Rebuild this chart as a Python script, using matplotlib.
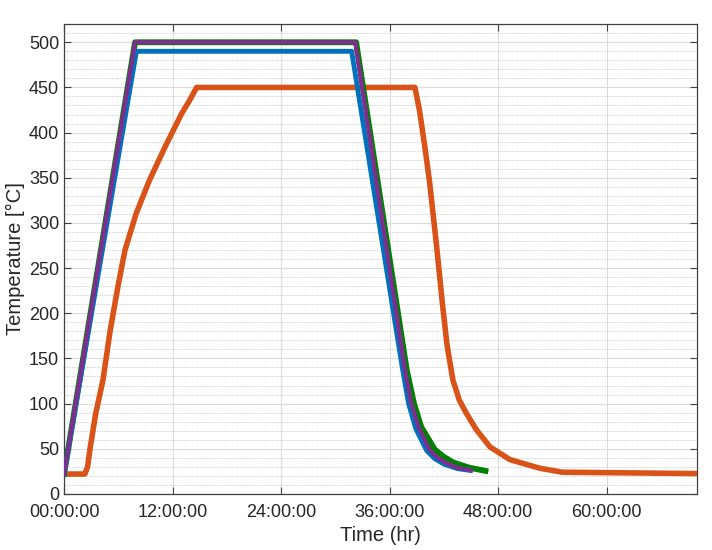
import matplotlib.pyplot as plt
import matplotlib.ticker as mticker
import numpy as np

plt.rcParams["font.family"] = ["Liberation Sans", "DejaVu Sans"]

# time in hours, temperature in deg C
blue_t = [0.0, 8.0, 31.8, 37.4, 38.1, 38.9, 40.1, 41.0, 42.0, 43.5, 44.9]
blue_T = [22, 490, 490, 140, 100, 72, 48, 39, 33, 28, 26]

purple_t = [0.0, 7.85, 32.2, 37.7, 38.4, 39.2, 40.4, 41.3, 42.3, 43.5, 45.0]
purple_T = [22, 500, 500, 137, 100, 74, 49, 40, 34, 29, 26]

green_t = [0.0, 7.85, 32.3, 37.9, 38.7, 39.5, 41.0, 42.0, 43.0, 44.8, 46.6]
green_T = [22, 500, 500, 137, 100, 74, 49, 41, 35, 29, 25.5]

orange_t = [0.0, 2.3, 2.6, 2.9, 3.5, 4.3, 5.1, 6.0, 6.74, 7.96, 9.43, 11.16, 13.0, 13.9, 14.66,
            38.8, 39.3, 39.9, 40.4, 41.2, 41.9, 42.35, 43.0, 43.7, 44.5, 45.6, 47.1, 49.3, 52.6,
            55.1, 70.0]
orange_T = [22, 22, 30, 52, 89, 126, 181, 232, 270, 310, 347, 384, 421, 436, 450,
            450, 425, 384, 347, 274, 205, 165, 126, 104, 89, 71, 52, 38, 28.4,
            24, 22.5]

fig, ax = plt.subplots(figsize=(7.12, 5.5), dpi=100)
fig.subplots_adjust(left=0.09, right=0.979, top=0.956, bottom=0.102)

ax.plot(orange_t, orange_T, color="#D95319", linewidth=4, zorder=3, solid_joinstyle="round")
ax.plot(green_t, green_T, color="#008000", linewidth=4.2, zorder=4, solid_joinstyle="round")
ax.plot(blue_t, blue_T, color="#0072BD", linewidth=3.5, zorder=5, solid_joinstyle="round")
ax.plot(purple_t, purple_T, color="#7E2F8E", linewidth=3, zorder=6, solid_joinstyle="round")

ax.set_xlim(0, 70)
ax.set_ylim(0, 520)
ax.xaxis.set_major_locator(mticker.MultipleLocator(12))
ax.xaxis.set_major_formatter(mticker.FuncFormatter(lambda v, p: f"{int(round(v)):02d}:00:00"))
ax.yaxis.set_major_locator(mticker.MultipleLocator(50))
ax.yaxis.set_minor_locator(mticker.MultipleLocator(10))

ax.grid(which="major", color="#dcdcdc", linewidth=0.8, linestyle="-")
ax.grid(which="minor", axis="y", color="#c8c8c8", linewidth=0.6, linestyle=(0, (1.5, 1.5)))
ax.set_axisbelow(True)

for s in ax.spines.values():
    s.set_color("#404040")
    s.set_linewidth(0.9)
ax.tick_params(which="both", direction="in", top=True, right=True, colors="#404040",
               labelcolor="#262626", labelsize=13, length=5, width=0.8)
ax.tick_params(axis="x", pad=7)
ax.tick_params(which="minor", length=0)

ax.set_xlabel("Time (hr)", fontsize=14.5, color="#262626", labelpad=4)
ax.set_ylabel("Temperature [°C]", fontsize=14.5, color="#262626", labelpad=3)

fig.savefig("out.png", dpi=100)
